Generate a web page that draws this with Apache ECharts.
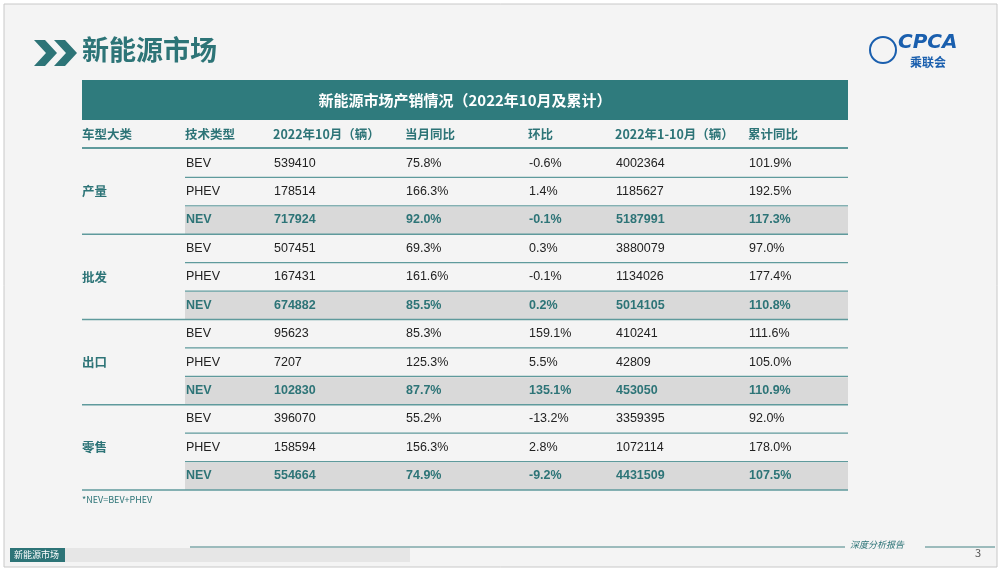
<!DOCTYPE html>
<html><head><meta charset="utf-8">
<script src="https://cdn.jsdelivr.net/npm/echarts@6/dist/echarts.min.js"></script>
<style>html,body{margin:0;padding:0;background:#fff}#c{width:1002px;height:573px}</style>
</head><body><div id="c"></div>
<script>
const groups = ['产量','批发','出口','零售'];
const types = ['BEV','PHEV','NEV'];
const headers = ['车型大类','技术类型','2022年10月（辆）','当月同比','环比','2022年1-10月（辆）','累计同比'];
const colStart = [0,103,191,323,446,533,666];
const monthly = [539410,178514,717924, 507451,167431,674882, 95623,7207,102830, 396070,158594,554664];
const yoy = [75.8,166.3,92.0, 69.3,161.6,85.5, 85.3,125.3,87.7, 55.2,156.3,74.9];
const mom = [-0.6,1.4,-0.1, 0.3,-0.1,0.2, 159.1,5.5,135.1, -13.2,2.8,-9.2];
const cum = [4002364,1185627,5187991, 3880079,1134026,5014105, 410241,42809,453050, 3359395,1072114,4431509];
const cumYoy = [101.9,192.5,117.3, 97.0,177.4,110.8, 111.6,105.0,110.9, 92.0,178.0,107.5];

const TEAL='#2d7477', FONT='"Noto Sans CJK SC","Noto Sans",sans-serif';
const rows = monthly.map((v,i)=>[i]);
const chart = echarts.init(document.getElementById('c'));
const gl=82, gt=149, gw=766, gh=341;

const graphics = [
  {type:'rect',shape:{x:4,y:4,width:993,height:563},style:{fill:'#f4f4f4',stroke:'#c8c8c8',lineWidth:1},z:-10},
  {type:'polygon',shape:{points:[[34,40],[45,40],[57,53],[45,66],[34,66],[46,53]]},style:{fill:TEAL}},
  {type:'polygon',shape:{points:[[54,40],[65,40],[77,53],[65,66],[54,66],[66,53]]},style:{fill:TEAL}},
  {type:'text',left:82,top:36,style:{text:'新能源市场',fill:TEAL,font:'bold 27px '+FONT}},
  {type:'text',left:898,top:33,style:{text:'CPCA',fill:'#1a5fae',font:'italic bold 20px "DejaVu Sans"'}},
  {type:'text',left:910,top:56,style:{text:'乘联会',fill:'#1a5fae',font:'bold 12px '+FONT}},
  {type:'circle',shape:{cx:883,cy:50,r:13},style:{fill:'none',stroke:'#1a5fae',lineWidth:2}},
  {type:'rect',shape:{x:82,y:80,width:766,height:40},style:{fill:'#2f7b7d'}},
  {type:'text',x:465,y:100,style:{text:'新能源市场产销情况（2022年10月及累计）',fill:'#fff',font:'bold 15px '+FONT,align:'center',verticalAlign:'middle'}},
  {type:'line',shape:{x1:82,y1:148,x2:848,y2:148},style:{stroke:'#5f9a9c',lineWidth:2}},
  {type:'text',left:82,top:495,style:{text:'*NEV=BEV+PHEV',fill:TEAL,font:'9px '+FONT}},
  {type:'line',shape:{x1:190,y1:547,x2:845,y2:547},style:{stroke:'#7fa9aa',lineWidth:1.5}},
  {type:'line',shape:{x1:925,y1:547,x2:995,y2:547},style:{stroke:'#7fa9aa',lineWidth:1.5}},
  {type:'text',left:850,top:540,style:{text:'深度分析报告',fill:TEAL,font:'italic 9px '+FONT}},
  {type:'text',left:975,top:547,style:{text:'3',fill:'#555',font:'11px '+FONT}},
  {type:'rect',shape:{x:10,y:548,width:400,height:14},style:{fill:'#e6e6e6'}},
  {type:'rect',shape:{x:10,y:548,width:55,height:14},style:{fill:TEAL}},
  {type:'text',left:14,top:550,style:{text:'新能源市场',fill:'#fff',font:'9px '+FONT}}
].concat(headers.map((h,j)=>({type:'text',left:gl+colStart[j],top:128,style:{text:h,fill:TEAL,font:'bold 12.5px '+FONT}})));

chart.setOption({
  animation:false,
  grid:{left:gl,top:gt,width:gw,height:gh},
  xAxis:{type:'value',min:0,max:766,show:false},
  yAxis:{type:'category',data:rows.map((r,i)=>i),inverse:true,show:false},
  graphic:graphics,
  series:[{type:'custom',data:rows,renderItem:function(params,api){
    const i=api.value(0);
    const c=api.coord([0,i]); const h=api.size([0,1])[1];
    const top=c[1]-h/2, mid=c[1];
    const x=j=>api.coord([colStart[j],i])[0];
    const xEnd=api.coord([766,i])[0];
    const t=i%3, isNev=t===2, g=Math.floor(i/3);
    const pct=v=>v.toFixed(1)+'%';
    const vals=[t===1?groups[g]:'',types[t],String(monthly[i]),pct(yoy[i]),pct(mom[i]),String(cum[i]),pct(cumYoy[i])];
    const ch=[];
    if(isNev) ch.push({type:'rect',shape:{x:x(1),y:top+1,width:xEnd-x(1),height:h-1},style:{fill:'#d9d9d9'}});
    ch.push({type:'line',shape:{x1:isNev?x(0):x(1),y1:top+h,x2:xEnd,y2:top+h},style:{stroke:'#5f9a9c',lineWidth:isNev?1.6:1.2}});
    vals.forEach((v,j)=>{ if(!v) return;
      ch.push({type:'text',x:x(j)+(j===0?0:1),y:mid,style:{text:v,verticalAlign:'middle',
        fill:(j===0||isNev)?TEAL:'#222',font:((j===0||isNev)?'bold ':'')+'12.5px '+(j===0?FONT:'"Liberation Sans",Arial,'+FONT)}});
    });
    return {type:'group',children:ch};
  }}]
});
</script></body></html>
